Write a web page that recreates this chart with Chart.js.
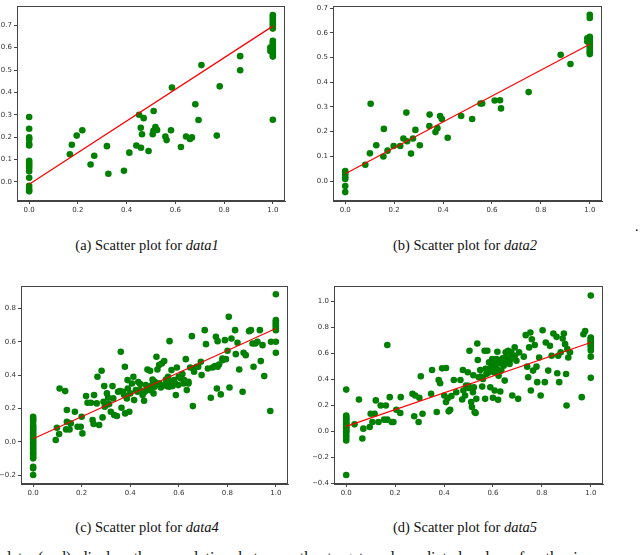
<!DOCTYPE html>
<html>
<head>
<meta charset="utf-8">
<script src="https://cdn.jsdelivr.net/npm/chart.js@4.4.1/dist/chart.umd.min.js"></script>
<style>
  body { margin: 0; background: #fff; width: 640px; height: 555px; overflow: hidden; position: relative; }
  canvas { position: absolute; }
  .cap { position: absolute; width: 220px; text-align: center; font: 14.5px "Liberation Serif", serif; line-height: 16px; color: #111; white-space: nowrap; }
  .cap i { font-style: italic; }
  #note { position: absolute; left: 3px; top: 550px; font: 16px "Liberation Serif", serif; line-height: 16px; white-space: nowrap; word-spacing: 4px; color: #111; }
  #dot { position: absolute; left: 635px; top: 219px; font: 14px "Liberation Serif", serif; }
</style>
</head>
<body>
<canvas id="plotA" width="290" height="215" style="left:0;top:0"></canvas>
<canvas id="plotB" width="295" height="215" style="left:313px;top:0"></canvas>
<canvas id="plotC" width="295" height="218" style="left:0;top:280px"></canvas>
<canvas id="plotD" width="295" height="218" style="left:313px;top:280px"></canvas>

<div class="cap" style="left:37px;top:237px">(a) Scatter plot for <i>data1</i></div>
<div class="cap" style="left:355px;top:237px">(b) Scatter plot for <i>data2</i></div>
<div id="dot">.</div>
<div class="cap" style="left:37px;top:519px">(c) Scatter plot for <i>data4</i></div>
<div class="cap" style="left:355px;top:519px">(d) Scatter plot for <i>data5</i></div>
<div id="note">data (a–d) display the correlation between the target and predicted values for the i</div>

<script>
// tick values
const xTicks = [0, 0.2, 0.4, 0.6, 0.8, 1.0];
const yTicksA = [0, 0.1, 0.2, 0.3, 0.4, 0.5, 0.6, 0.7];
const yTicksB = [0, 0.1, 0.2, 0.3, 0.4, 0.5, 0.6, 0.7];
const yTicksC = [-0.2, 0, 0.2, 0.4, 0.6, 0.8];
const yTicksD = [-0.4, -0.2, 0, 0.2, 0.4, 0.6, 0.8, 1.0];

// data1: predictions for target 0, target 1, and the values in between
const a0 = [0.29,0.238,0.20,0.19,0.17,0.163,0.094,0.084,0.073,0.062,0.048,0.019,-0.017,-0.032,-0.042];
const a1 = [0.745,0.735,0.725,0.715,0.705,0.695,0.685,0.63,0.62,0.61,0.60,0.59,0.58,0.57,0.56,0.278];
const aMidX = [0.167,0.175,0.195,0.218,0.252,0.267,0.319,0.325,0.389,0.411,
  0.440,0.451,0.458,0.459,0.463,0.470,0.490,0.507,0.510,0.511,
  0.518,0.525,0.559,0.564,0.582,0.586,0.623,0.644,0.660,0.668,
  0.682,0.695,0.707,0.770,0.782,0.866,0.866,0.99,0.99];
const aMidY = [0.124,0.166,0.207,0.231,0.078,0.117,0.160,0.037,0.050,0.131,
  0.163,0.300,0.242,0.153,0.213,0.285,0.138,0.213,0.228,0.317,
  0.245,0.232,0.203,0.187,0.231,0.422,0.156,0.203,0.192,0.199,
  0.347,0.277,0.522,0.207,0.427,0.499,0.562,0.60,0.585];
const aFit = [-0.01, 0.696];

// data2
const b0 = [0.04,0.033,0.025,0.015,0.008,-0.02,-0.045];
const b1 = [0.673,0.66,0.584,0.577,0.57,0.56,0.551,0.541,0.53,0.521,0.514];
const bMidX = [0.082,0.101,0.104,0.127,0.156,0.158,0.173,0.198,0.225,0.238,
  0.250,0.253,0.269,0.277,0.287,0.305,0.344,0.345,0.369,0.377,
  0.388,0.395,0.419,0.474,0.519,0.553,0.560,0.611,0.633,0.637,
  0.750,0.881,0.921,0.99,0.99];
const bMidY = [0.066,0.112,0.313,0.145,0.099,0.211,0.123,0.142,0.142,0.172,
  0.277,0.161,0.111,0.172,0.207,0.145,0.223,0.269,0.198,0.214,
  0.263,0.251,0.175,0.263,0.251,0.314,0.314,0.326,0.327,0.294,
  0.360,0.511,0.474,0.578,0.565];
const bFit = [0.029, 0.554];

// data4
const c0 = [0.15,0.14,0.13,0.12,0.10,0.09,0.08,0.07,0.06,0.05,0.04,0.03,0.02,0.01,0.0,
  -0.01,-0.02,-0.03,-0.04,-0.05,-0.06,-0.07,-0.08,-0.09,-0.10,-0.15,-0.16,-0.2];
const c1 = [0.886,0.73,0.72,0.71,0.70,0.69,0.68,0.67,0.60,0.534];
const cMidX = [0.093,0.098,0.107,0.109,0.132,0.136,0.139,0.139,0.150,0.155,
  0.172,0.183,0.196,0.200,0.203,0.218,0.224,0.238,0.245,0.249,
  0.251,0.262,0.265,0.272,0.282,0.286,0.293,0.295,0.304,0.309,
  0.313,0.320,0.327,0.334,0.345,0.358,0.361,0.364,0.375,0.378,
  0.379,0.386,0.389,0.396,0.400,0.407,0.413,0.416,0.423,0.433,
  0.441,0.451,0.457,0.464,0.471,0.475,0.482,0.488,0.492,0.496,
  0.501,0.508,0.512,0.515,0.519,0.526,0.530,0.537,0.540,0.547,
  0.551,0.556,0.562,0.565,0.570,0.574,0.581,0.588,0.592,0.598,
  0.609,0.615,0.622,0.629,0.633,0.640,0.647,0.654,0.658,0.663,
  0.674,0.691,0.694,0.707,0.712,0.732,0.739,0.749,0.753,0.757,
  0.760,0.766,0.773,0.780,0.790,0.794,0.801,0.806,0.809,0.817,
  0.832,0.835,0.842,0.849,0.863,0.867,0.876,0.890,0.897,0.904,
  0.908,0.915,0.924,0.934,0.938,0.945,0.952,0.98,0.977,
  0.50,0.505,0.52,0.53,0.545,0.555,0.56,0.575,0.585,0.46,
  0.47,0.48,0.49,0.43,0.44,0.37,0.39,0.35,0.33,0.29,
  0.30,0.60,0.62,0.64,0.66,0.68,0.72,0.76,0.78];
const cMidY = [0.01,0.084,0.046,0.32,0.304,0.074,0.19,0.12,0.074,0.11,
  0.18,0.09,0.09,0.15,0.05,0.274,0.234,0.234,0.13,0.106,
  0.28,0.23,0.39,0.10,0.426,0.146,0.334,0.21,0.29,0.264,
  0.226,0.18,0.334,0.16,0.154,0.304,0.54,0.204,0.28,0.45,
  0.17,0.26,0.37,0.18,0.29,0.35,0.39,0.25,0.31,0.358,
  0.346,0.28,0.246,0.34,0.434,0.32,0.426,0.33,0.374,0.29,
  0.36,0.51,0.434,0.35,0.46,0.326,0.47,0.34,0.484,0.374,
  0.334,0.39,0.604,0.36,0.43,0.334,0.37,0.28,0.446,0.34,
  0.38,0.406,0.37,0.496,0.31,0.35,0.446,0.634,0.214,0.42,
  0.45,0.48,0.40,0.67,0.586,0.264,0.446,0.454,0.63,0.32,
  0.604,0.464,0.284,0.49,0.61,0.496,0.546,0.75,0.326,0.62,
  0.67,0.526,0.594,0.434,0.30,0.534,0.52,0.664,0.67,0.59,
  0.45,0.59,0.60,0.67,0.484,0.58,0.394,0.6,0.184,
  0.33,0.345,0.35,0.335,0.345,0.36,0.33,0.36,0.35,0.30,
  0.32,0.31,0.34,0.30,0.31,0.30,0.32,0.30,0.26,0.24,
  0.22,0.39,0.35,0.36,0.44,0.45,0.44,0.45,0.50];
const cFit = [0.018, 0.68];

// data5
const d0 = [0.32,0.12,0.11,0.10,0.09,0.08,0.07,0.06,0.05,0.04,0.03,0.02,0.01,0.0,-0.01,-0.03,-0.05,-0.07,-0.336];
const d1 = [1.043,0.72,0.71,0.70,0.69,0.68,0.67,0.66,0.64,0.62,0.573,0.41];
const dMidX = [0.034,0.052,0.066,0.070,0.096,0.100,0.107,0.116,0.121,0.132,
  0.141,0.155,0.162,0.168,0.168,0.178,0.186,0.193,0.205,0.221,
  0.223,0.271,0.278,0.282,0.296,0.299,0.305,0.312,0.347,0.351,
  0.370,0.378,0.384,0.392,0.401,0.408,0.408,0.415,0.419,0.425,
  0.440,0.467,0.474,0.477,0.479,0.486,0.490,0.497,0.500,0.504,
  0.511,0.514,0.518,0.522,0.525,0.529,0.532,0.536,0.538,0.542,
  0.548,0.556,0.559,0.566,0.568,0.573,0.577,0.579,0.584,0.589,
  0.593,0.597,0.600,0.604,0.607,0.611,0.614,0.618,0.621,0.623,
  0.627,0.630,0.634,0.638,0.644,0.648,0.652,0.655,0.659,0.662,
  0.666,0.668,0.675,0.679,0.685,0.689,0.696,0.703,0.707,0.726,
  0.734,0.740,0.744,0.748,0.753,0.755,0.759,0.764,0.771,0.778,
  0.781,0.789,0.795,0.803,0.812,0.816,0.826,0.833,0.840,0.847,
  0.860,0.863,0.867,0.871,0.877,0.885,0.890,0.895,0.899,0.901,
  0.904,0.908,0.915,0.963,0.97,0.977,
  0.60,0.61,0.63,0.64,0.65,0.67,0.69,0.57,0.58,0.55,
  0.52,0.50,0.45,0.43,0.62];
const dMidY = [0.053,0.244,-0.056,0.02,0.033,0.135,0.071,0.135,0.237,0.071,
  0.198,0.089,0.198,0.662,0.089,0.262,0.071,0.071,0.165,0.14,
  0.262,0.288,0.115,0.275,0.071,0.257,0.422,0.135,0.288,0.471,
  0.148,0.394,0.369,0.483,0.275,0.486,0.224,0.254,0.153,0.165,
  0.394,0.394,0.244,0.471,0.313,0.275,0.351,0.453,0.333,0.618,
  0.224,0.186,0.30,0.338,0.148,0.14,0.249,0.674,0.547,0.415,
  0.471,0.343,0.402,0.618,0.249,0.44,0.618,0.471,0.529,0.338,
  0.491,0.555,0.257,0.453,0.313,0.504,0.555,0.611,0.242,0.427,
  0.542,0.305,0.466,0.555,0.504,0.389,0.606,0.567,0.529,0.618,
  0.567,0.517,0.606,0.275,0.567,0.644,0.542,0.249,0.606,0.573,
  0.738,0.496,0.415,0.644,0.758,0.313,0.707,0.466,0.662,0.496,
  0.377,0.567,0.275,0.776,0.377,0.682,0.466,0.656,0.580,0.751,
  0.725,0.445,0.580,0.377,0.606,0.712,0.751,0.669,0.440,0.198,
  0.631,0.567,0.606,0.262,0.745,0.77,
  0.50,0.53,0.52,0.56,0.54,0.55,0.58,0.48,0.45,0.42,
  0.43,0.35,0.30,0.27,0.47];
const dFit = [0.038, 0.682];

const AXIS_COL = '#444';
const TICK_FONT = { family: 'DejaVu Sans', size: 7 };

// spines on all four sides, like matplotlib
const framePlugin = {
  id: 'frame',
  afterDraw(chart) {
    const a = chart.chartArea, ctx = chart.ctx;
    ctx.save();
    ctx.strokeStyle = AXIS_COL;
    ctx.lineWidth = 1;
    ctx.strokeRect(Math.round(a.left) + 0.5, Math.round(a.top) + 0.5,
      Math.round(a.right - a.left) - 1, Math.round(a.bottom - a.top) - 1);
    ctx.restore();
  }
};

const fmt = (v) => (v < 0 ? '\u2212' + Math.abs(v).toFixed(1) : v.toFixed(1));

function makePoints(zeros, ones, midX, midY) {
  const pts = [];
  zeros.forEach(y => pts.push({ x: 0, y: y }));
  midX.forEach((x, i) => pts.push({ x: x, y: midY[i] }));
  ones.forEach(y => pts.push({ x: 1, y: y }));
  return pts;
}

function scatterPlot(id, pts, fit, yMin, yMax, yTicks, yWidth, padTop, padRight) {
  new Chart(document.getElementById(id), {
    type: 'scatter',
    data: {
      datasets: [
        {
          type: 'line',
          data: [{ x: 0, y: fit[0] }, { x: 1, y: fit[1] }],
          borderColor: '#ff0000',
          borderWidth: 1.2,
          pointRadius: 0,
          fill: false,
          order: 0
        },
        {
          data: pts,
          backgroundColor: '#008000',
          borderColor: '#008000',
          borderWidth: 0,
          pointRadius: 3.3,
          order: 1
        }
      ]
    },
    options: {
      responsive: false,
      animation: false,
      events: [],
      layout: { padding: { top: padTop, right: padRight, left: 0, bottom: 0 } },
      plugins: { legend: { display: false }, tooltip: { enabled: false } },
      scales: {
        x: {
          type: 'linear', min: -0.05, max: 1.05,
          afterBuildTicks: (s) => { s.ticks = xTicks.map(v => ({ value: v })); },
          afterFit: (s) => { s.height = 14; },
          grid: { drawOnChartArea: false, color: AXIS_COL, tickLength: 3 },
          border: { color: AXIS_COL },
          ticks: { font: TICK_FONT, color: '#333', padding: 2, maxRotation: 0, callback: fmt }
        },
        y: {
          type: 'linear', min: yMin, max: yMax,
          afterBuildTicks: (s) => { s.ticks = yTicks.map(v => ({ value: v })); },
          afterFit: (s) => { s.width = yWidth; },
          grid: { drawOnChartArea: false, color: AXIS_COL, tickLength: 3 },
          border: { color: AXIS_COL },
          ticks: { font: TICK_FONT, color: '#333', padding: 2, callback: fmt }
        }
      }
    },
    plugins: [framePlugin]
  });
}

scatterPlot('plotA', makePoints(a0, a1, aMidX, aMidY), aFit, -0.085, 0.785, yTicksA, 17, 2, 5);
scatterPlot('plotB', makePoints(b0, b1, bMidX, bMidY), bFit, -0.081, 0.708, yTicksB, 20, 1, 6);
scatterPlot('plotC', makePoints(c0, c1, cMidX, cMidY), cFit, -0.254, 0.934, yTicksC, 21, 5, 7);
scatterPlot('plotD', makePoints(d0, d1, dMidX, dMidY), dFit, -0.405, 1.114, yTicksD, 21, 5, 5);
</script>
</body>
</html>
